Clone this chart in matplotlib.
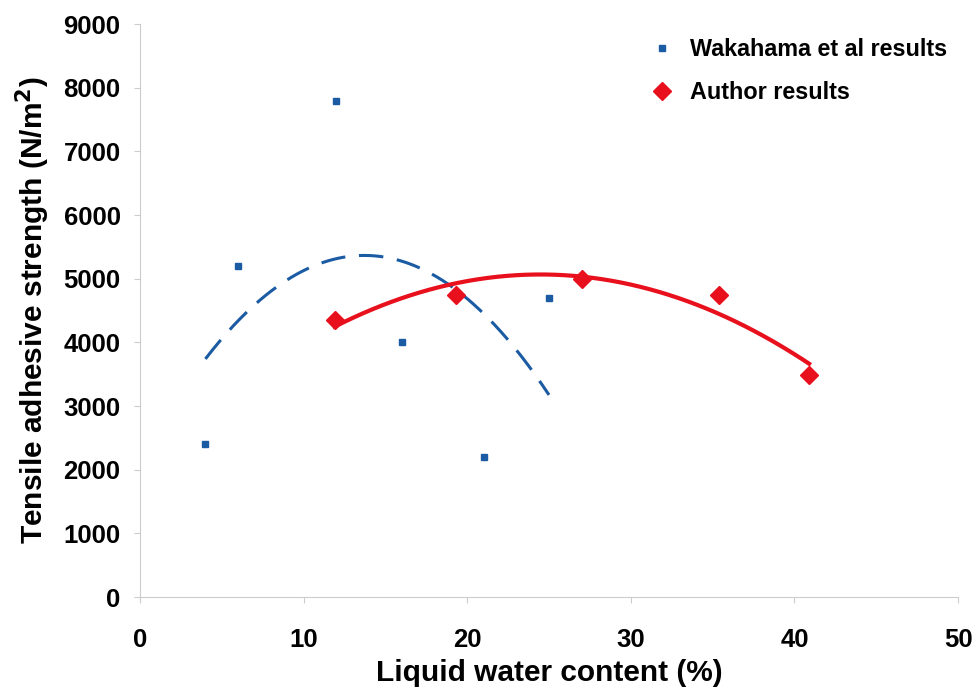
import numpy as np
import matplotlib
matplotlib.use('Agg')
import matplotlib.pyplot as plt

plt.rcParams['font.family'] = ['Liberation Sans', 'DejaVu Sans']
plt.rcParams['font.weight'] = 'bold'

# Wakahama et al results
wak_x = [4, 6, 12, 16, 21, 25]
wak_y = [2400, 5200, 7800, 4000, 2200, 4700]

# Author results
auth_x = [11.9, 19.3, 27.0, 35.4, 40.9]
auth_y = [4350, 4740, 4990, 4750, 3490]

blue = '#1b5ba3'
red = '#e8101c'

fig = plt.figure(figsize=(9.72, 6.89), dpi=100)
ax = fig.add_axes([0.144, 0.1335, 0.8416, 0.8315])

# 2nd order polynomial trend lines
c = np.polyfit(wak_x, wak_y, 2)
xs = np.linspace(min(wak_x), max(wak_x), 200)
ax.plot(xs, np.polyval(c, xs), color=blue, lw=2.2, dashes=(8, 4.5))

c = np.polyfit(auth_x, auth_y, 2)
xs = np.linspace(min(auth_x), max(auth_x), 200)
ax.plot(xs, np.polyval(c, xs), color=red, lw=3)

ax.plot(wak_x, wak_y, 's', color=blue, ms=4.5, label='Wakahama et al results')
ax.plot(auth_x, auth_y, 'D', color=red, ms=9, label='Author results')

ax.set_xlim(0, 50)
ax.set_ylim(0, 9000)
ax.set_xticks(range(0, 51, 10))
ax.set_yticks(range(0, 9001, 1000))

for s in ['top', 'right']:
    ax.spines[s].set_visible(False)
for s in ['left', 'bottom']:
    ax.spines[s].set_color('#cccccc')
ax.tick_params(colors='#cccccc', labelcolor='black', labelsize=18.5, length=4)
ax.tick_params(axis='x', pad=18)
ax.tick_params(axis='y', pad=10)
for lab in ax.get_xticklabels() + ax.get_yticklabels():
    lab.set_fontweight('bold')

ax.set_xlabel('Liquid water content (%)', fontsize=21.5, fontweight='bold', labelpad=5)
ax.set_ylabel('Tensile adhesive strength (N/m$^\\mathbf{2}$)', fontsize=21.5, fontweight='bold', labelpad=8)

ax.legend(loc='upper right', frameon=False, fontsize=16.8, handlelength=1.2,
          handletextpad=0.6, labelspacing=0.85, bbox_to_anchor=(1.012, 1.012))

fig.savefig('out.png', dpi=100)
